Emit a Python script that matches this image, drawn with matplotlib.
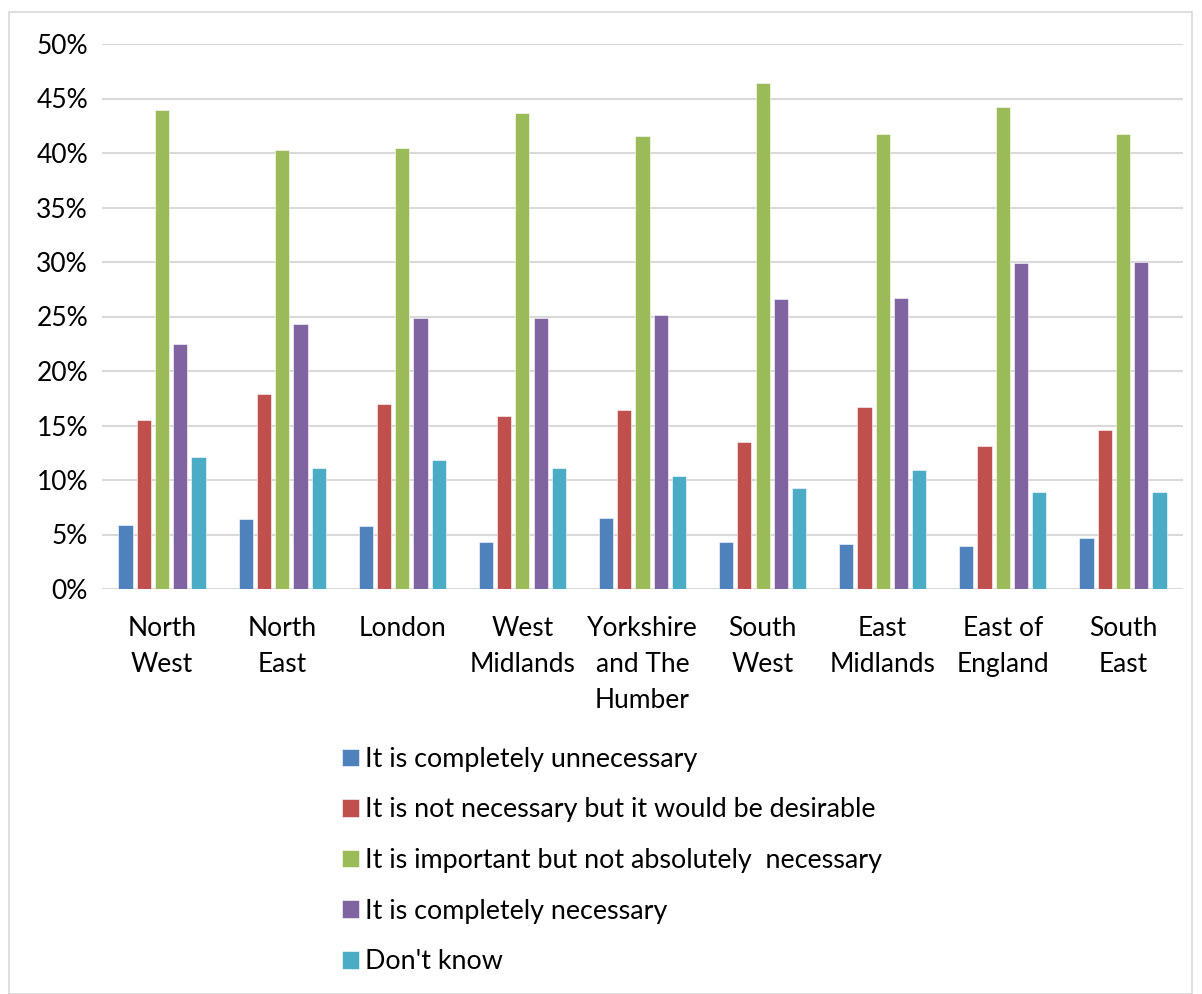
import matplotlib
matplotlib.use("Agg")
import matplotlib.pyplot as plt
from matplotlib.patches import Rectangle
import numpy as np

plt.rcParams['font.family'] = ['Lato', 'DejaVu Sans']

regions = ["North\nWest", "North\nEast", "London", "West\nMidlands",
           "Yorkshire\nand The\nHumber", "South\nWest", "East\nMidlands",
           "East of\nEngland", "South\nEast"]
series_names = ["It is completely unnecessary",
                "It is not necessary but it would be desirable",
                "It is important but not absolutely  necessary",
                "It is completely necessary",
                "Don't know"]
completely_unnecessary = [5.9, 6.4, 5.8, 4.3, 6.5, 4.3, 4.1, 3.9, 4.7]
not_necessary_desirable = [15.5, 17.9, 17.0, 15.9, 16.4, 13.5, 16.7, 13.1, 14.6]
important_not_absolute = [43.9, 40.3, 40.5, 43.7, 41.6, 46.4, 41.7, 44.2, 41.7]
completely_necessary = [22.5, 24.3, 24.9, 24.9, 25.1, 26.6, 26.7, 29.9, 30.0]
dont_know = [12.1, 11.1, 11.8, 11.1, 10.4, 9.3, 10.9, 8.9, 8.9]
yticks = [0, 5, 10, 15, 20, 25, 30, 35, 40, 45, 50]
ytick_labels = ["0%", "5%", "10%", "15%", "20%", "25%", "30%", "35%", "40%", "45%", "50%"]

colors = ["#4F81BD", "#C0504D", "#9BBB59", "#8064A2", "#4BACC6"]
all_series = [completely_unnecessary, not_necessary_desirable, important_not_absolute,
              completely_necessary, dont_know]

W, H = 1202, 994
FS = 19
fig = plt.figure(figsize=(W / 100, H / 100), dpi=100)
fig.patches.append(Rectangle((9 / W, 0.0005), (1192 - 9) / W, 1 - 12 / H - 0.0005,
                             transform=fig.transFigure, fill=False,
                             edgecolor="#d9d9d9", linewidth=1.2))

ax = fig.add_axes([102 / W, 1 - 589 / H, (1183 - 102) / W, (589 - 44) / H])
x = np.arange(len(regions))
step = 0.152
bw = 0.118
handles = []
for i, (vals, c, name) in enumerate(zip(all_series, colors, series_names)):
    b = ax.bar(x + (i - 2) * step, vals, width=bw, color=c, label=name,
               edgecolor="white", linewidth=0.4, zorder=3)
    handles.append(b)

ax.set_xlim(-0.5, len(regions) - 0.5)
ax.set_ylim(0, 50)
ax.set_yticks(yticks)
ax.set_yticklabels(ytick_labels)
ax.set_xticks(x)
ax.set_xticklabels(regions, linespacing=1.56)
ax.tick_params(axis="both", length=0, labelsize=FS, colors="black")
ax.tick_params(axis="y", pad=10)
ax.tick_params(axis="x", pad=19.5)
ax.grid(axis="y", color="#d9d9d9", linewidth=1.5, zorder=0)
for s in ax.spines.values():
    s.set_visible(False)

leg = fig.legend(handles=handles, loc="center left",
                 bbox_to_anchor=(342 / W, 1 - 860.5 / H),
                 frameon=False, fontsize=19.4, borderpad=0, borderaxespad=0,
                 handlelength=0.63, handleheight=0.63, handletextpad=0.22,
                 labelspacing=0.95)

fig.savefig("out.png", dpi=100)
